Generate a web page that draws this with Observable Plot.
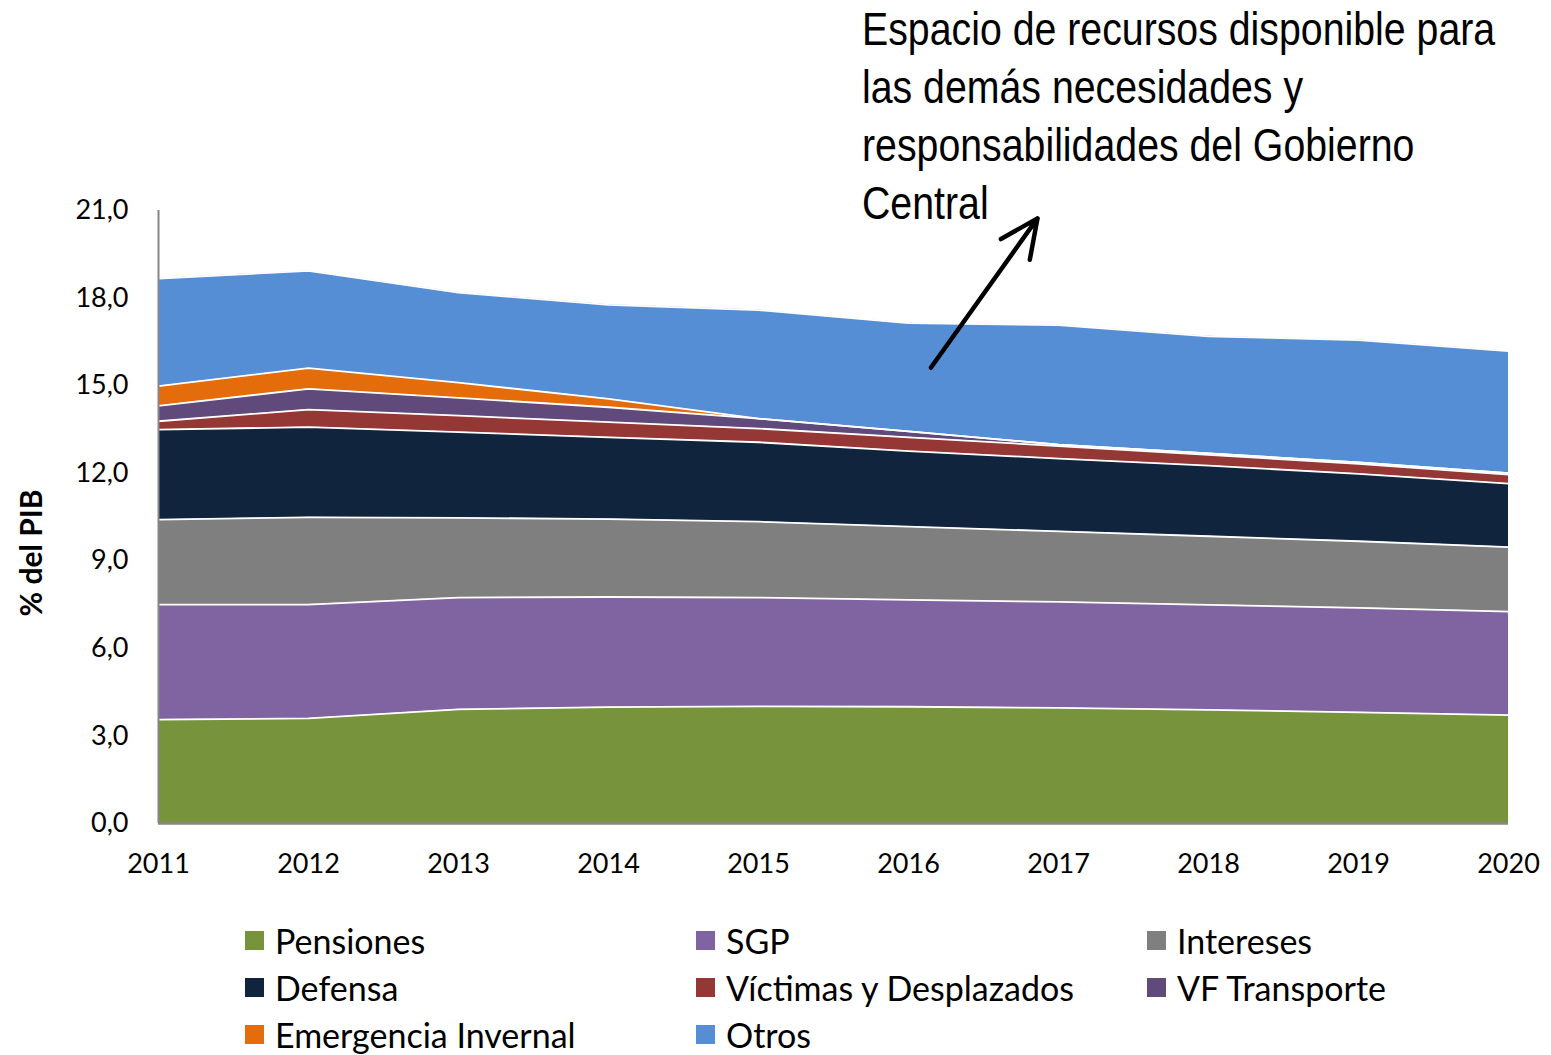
<!DOCTYPE html>
<html>
<head>
<meta charset="utf-8">
<script src="https://cdn.jsdelivr.net/npm/d3@7"></script>
<script src="https://cdn.jsdelivr.net/npm/@observablehq/plot@0.6"></script>
<style>
  body { margin: 0; background: #fff; }
  #chart { width: 1551px; }
  .lg-swatches { display: grid !important; grid-template-columns: repeat(3, 451px); margin-left: 245px; margin-top: 17px; min-height: 0 !important; }
  .lg-swatch { display: flex !important; align-items: center; height: 47px; margin: 0 !important; font-family: Lato, sans-serif; font-size: 34px; color: #000; }
  .lg-swatch svg { margin-right: 11px !important; }
</style>
</head>
<body>
<div id="chart"></div>
<script>
const years = [2011, 2012, 2013, 2014, 2015, 2016, 2017, 2018, 2019, 2020];
const seriesNames = ["Pensiones", "SGP", "Intereses", "Defensa", "Víctimas y Desplazados", "VF Transporte", "Emergencia Invernal", "Otros"];
const seriesColors = ["#77933C", "#8064A2", "#7F7F7F", "#10243E", "#953735", "#604A7B", "#E46C0A", "#558ED5"];

const pensiones  = [3.56, 3.60, 3.91, 3.99, 4.01, 4.00, 3.96, 3.89, 3.81, 3.71];
const sgp        = [3.94, 3.90, 3.83, 3.77, 3.73, 3.66, 3.63, 3.60, 3.58, 3.55];
const intereses  = [2.91, 2.99, 2.73, 2.67, 2.60, 2.51, 2.42, 2.35, 2.28, 2.21];
const defensa    = [3.08, 3.09, 2.94, 2.80, 2.72, 2.59, 2.49, 2.42, 2.31, 2.17];
const victimas   = [0.29, 0.60, 0.56, 0.52, 0.47, 0.47, 0.43, 0.37, 0.34, 0.31];
const vfTransp   = [0.53, 0.71, 0.61, 0.51, 0.34, 0.20, 0.05, 0.05, 0.05, 0.05];
const emergencia = [0.67, 0.71, 0.52, 0.29, 0.00, 0.00, 0.00, 0.00, 0.00, 0.00];
const otros      = [3.69, 3.33, 3.09, 3.22, 3.72, 3.71, 4.09, 4.01, 4.19, 4.18];

const yTicks = [0, 3, 6, 9, 12, 15, 18, 21];
const yLabel = "% del PIB";
const annotationText = "Espacio de recursos disponible para\nlas demás necesidades y\nresponsabilidades del Gobierno\nCentral";
// annotation arrow, in chart coordinates (year, % del PIB)
const arrowFrom = {x: 2016.15, y: 15.62};
const arrowTo   = {x: 2016.86, y: 20.73};

const valuesBySeries = [pensiones, sgp, intereses, defensa, victimas, vfTransp, emergencia, otros];
const data = [];
seriesNames.forEach((s, i) => {
  years.forEach((yr, j) => data.push({series: s, year: yr, value: valuesBySeries[i][j]}));
});

const fmt = d => d.toFixed(1).replace(".", ",");

const chart = Plot.plot({
  width: 1551,
  height: 900,
  marginLeft: 158,
  marginRight: 43,
  marginTop: 210,
  marginBottom: 77,
  style: {fontFamily: "Lato, sans-serif", fontSize: "27px", background: "#fff", color: "#000", overflow: "visible"},
  x: {domain: [2011, 2020], axis: null},
  y: {domain: [0, 21], axis: null},
  color: {domain: seriesNames, range: seriesColors},
  marks: [
    Plot.areaY(data, {x: "year", y: "value", z: "series", fill: "series", order: null}),
    Plot.lineY(data, Plot.stackY2({x: "year", y: "value", z: "series", order: null, stroke: "white", strokeWidth: 1.8})),
    Plot.ruleX([2011], {stroke: "#868686", strokeWidth: 2}),
    Plot.ruleY([0], {stroke: "#868686", strokeWidth: 2.5}),
    Plot.axisY({ticks: yTicks, tickFormat: fmt, tickSize: 0, tickPadding: 30, label: null, fontSize: 27}),
    Plot.axisX({ticks: years, tickFormat: d => String(d), tickSize: 0, tickPadding: 30, label: null, fontSize: 27}),
    Plot.text([yLabel], {frameAnchor: "left", dx: -126, dy: 36, rotate: -90, textAnchor: "middle", fontWeight: "bold", fontSize: 30}),
    Plot.text([annotationText], {frameAnchor: "top-left", textAnchor: "start", lineAnchor: "top", lineHeight: 1.26, fontSize: 46, fontFamily: "'Liberation Sans', Arial, sans-serif"}),
    Plot.arrow([0], {x1: () => arrowFrom.x, y1: () => arrowFrom.y, x2: () => arrowTo.x, y2: () => arrowTo.y, stroke: "black", strokeWidth: 4.5, headLength: 14, headAngle: 50, bend: 0})
  ]
});

// condense the annotation text horizontally (narrow face look), anchored at its top-left
d3.select(chart).selectAll("text")
  .filter(function() { return this.textContent.startsWith("Espacio"); })
  .each(function() {
    d3.select(this.parentNode).attr("transform", "translate(862,4) scale(0.854,1) translate(-158,-210)");
  });

const legend = Plot.legend({
  color: {domain: seriesNames, range: seriesColors},
  swatchSize: 19,
  className: "lg"
});

const root = document.getElementById("chart");
root.appendChild(chart);
root.appendChild(legend);
</script>
</body>
</html>
